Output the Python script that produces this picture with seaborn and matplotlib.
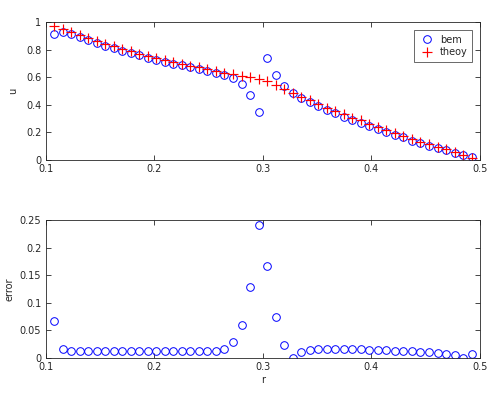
import numpy as np
import pandas as pd
import matplotlib
matplotlib.use("Agg")
import matplotlib.pyplot as plt
import seaborn as sns

# radial positions (evenly spaced)
r = [0.1078, 0.1157, 0.1235, 0.1314, 0.1392, 0.1471, 0.1549, 0.1627, 0.1706, 0.1784,
     0.1863, 0.1941, 0.2020, 0.2098, 0.2176, 0.2255, 0.2333, 0.2412, 0.2490, 0.2569,
     0.2647, 0.2725, 0.2804, 0.2882, 0.2961, 0.3039, 0.3118, 0.3196, 0.3275, 0.3353,
     0.3431, 0.3510, 0.3588, 0.3667, 0.3745, 0.3824, 0.3902, 0.3980, 0.4059, 0.4137,
     0.4216, 0.4294, 0.4373, 0.4451, 0.4529, 0.4608, 0.4686, 0.4765, 0.4843, 0.4922]

u_bem = [0.911, 0.930, 0.915, 0.891, 0.869, 0.848, 0.829, 0.811, 0.792, 0.774,
         0.758, 0.742, 0.726, 0.712, 0.698, 0.685, 0.672, 0.659, 0.646, 0.633,
         0.616, 0.593, 0.551, 0.472, 0.349, 0.737, 0.616, 0.536, 0.488, 0.447,
         0.418, 0.390, 0.364, 0.337, 0.314, 0.291, 0.270, 0.247, 0.223, 0.203,
         0.182, 0.163, 0.141, 0.121, 0.104, 0.085, 0.069, 0.053, 0.036, 0.024]

u_theory = [0.973, 0.947, 0.927, 0.903, 0.881, 0.860, 0.841, 0.823, 0.804, 0.786,
            0.770, 0.754, 0.738, 0.724, 0.710, 0.697, 0.684, 0.671, 0.658, 0.645,
            0.633, 0.622, 0.611, 0.600, 0.589, 0.569, 0.542, 0.514, 0.488, 0.457,
            0.432, 0.406, 0.380, 0.354, 0.331, 0.307, 0.286, 0.262, 0.237, 0.217,
            0.195, 0.176, 0.153, 0.132, 0.114, 0.094, 0.076, 0.058, 0.037, 0.017]

err = [0.067, 0.017, 0.012, 0.012, 0.012, 0.012, 0.012, 0.012, 0.012, 0.012,
       0.012, 0.012, 0.012, 0.012, 0.012, 0.012, 0.012, 0.012, 0.012, 0.012,
       0.017, 0.029, 0.060, 0.128, 0.241, 0.167, 0.075, 0.024, 0.000, 0.010,
       0.0145, 0.0157, 0.0163, 0.0169, 0.0169, 0.0163, 0.0157, 0.015, 0.0145, 0.0145,
       0.0133, 0.0133, 0.012, 0.0115, 0.0103, 0.0091, 0.0073, 0.0055, 0.0005, 0.0073]

xticks = [0.1, 0.2, 0.3, 0.4, 0.5]
xticklabels = ["0.1", "0.2", "0.3", "0.4", "0.5"]
uticks = [0, 0.2, 0.4, 0.6, 0.8, 1]
uticklabels = ["0", "0.2", "0.4", "0.6", "0.8", "1"]
eticks = [0, 0.05, 0.1, 0.15, 0.2, 0.25]
eticklabels = ["0", "0.05", "0.1", "0.15", "0.2", "0.25"]

df = pd.DataFrame({"r": r, "bem": u_bem, "theory": u_theory, "error": err})

sns.set_style("ticks")
plt.rcParams['font.family'] = ['DejaVu Sans']
plt.rcParams['font.size'] = 7

fig = plt.figure(figsize=(4.99, 3.98), dpi=100)
ax1 = fig.add_axes([0.0912, 0.598, 0.871, 0.347])
ax2 = fig.add_axes([0.0912, 0.1005, 0.871, 0.347])

blue = "#0000ff"
red = "#ff0000"

sns.lineplot(data=df, x="r", y="bem", ax=ax1, linestyle="none", marker="o",
             markersize=5.5, markerfacecolor="none", markeredgecolor=blue,
             markeredgewidth=0.7, color=blue, estimator=None, label="bem")
sns.lineplot(data=df, x="r", y="theory", ax=ax1, linestyle="none", marker="+",
             markersize=6.5, markeredgecolor=red, markeredgewidth=0.85,
             color=red, estimator=None, label="theoy")
sns.lineplot(data=df, x="r", y="error", ax=ax2, linestyle="none", marker="o",
             markersize=5.5, markerfacecolor="none", markeredgecolor=blue,
             markeredgewidth=0.7, color=blue, estimator=None)

for ax, yt, ytl, ylim in [(ax1, uticks, uticklabels, (0, 1)),
                          (ax2, eticks, eticklabels, (0, 0.25))]:
    ax.set_xlim(0.1, 0.5)
    ax.set_ylim(*ylim)
    ax.set_xticks(xticks)
    ax.set_xticklabels(xticklabels)
    ax.set_yticks(yt)
    ax.set_yticklabels(ytl)
    ax.tick_params(direction="in", length=3.5, width=0.6, top=True, right=True,
                   labelsize=7, colors="#262626", pad=3)
    for s in ax.spines.values():
        s.set_visible(True)
        s.set_linewidth(0.6)
        s.set_color("#262626")

ax1.set_xlabel("")
ax1.set_ylabel("u", fontsize=7, labelpad=6)
ax2.set_ylabel("error", fontsize=7, labelpad=4)
ax2.set_xlabel("r", fontsize=7, labelpad=2)

leg = ax1.legend(loc="upper right", fancybox=False, edgecolor="#262626",
                 fontsize=7, borderaxespad=0.8, handletextpad=0.6,
                 handlelength=1.5, borderpad=0.5, labelspacing=0.3)
leg.get_frame().set_linewidth(0.6)

fig.savefig("out.png", dpi=100)
